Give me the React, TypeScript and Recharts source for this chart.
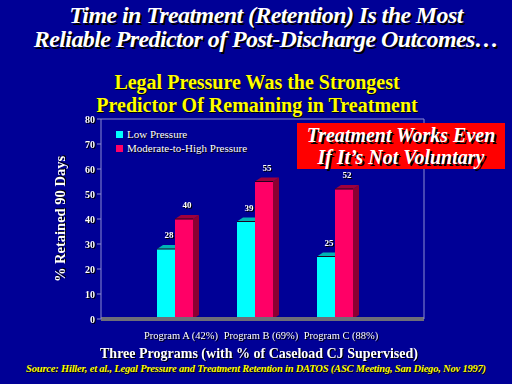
import React from 'react';
import { BarChart, Bar, XAxis, YAxis, CartesianGrid, Legend, LabelList } from 'recharts';

const programs = ['Program A (42%)', 'Program B (69%)', 'Program C (88%)'];
const lowPressure = [28, 39, 25];
const moderateHigh = [40, 55, 52];
const yTicks = [0, 10, 20, 30, 40, 50, 60, 70, 80];

const data = programs.map((p, i) => ({ name: p, low: lowPressure[i], high: moderateHigh[i] }));

const BG = '#000096';
const GRID = '#8c8cd0';
const SERIF = '"Liberation Serif", "Times New Roman", serif';

const DX = 6;
const DY = 4;

function make3D(front: string, top: string, side: string) {
  return (props: any) => {
    const { x, y, width, height } = props;
    if (width == null || height == null) return null;
    return (
      <g>
        <polygon
          points={`${x + width},${y} ${x + width + DX},${y - DY} ${x + width + DX},${y + height - DY} ${x + width},${y + height}`}
          fill={side}
        />
        <rect x={x} y={y} width={width} height={height} fill={front} />
        <polygon
          points={`${x},${y} ${x + DX},${y - DY} ${x + width + DX},${y - DY} ${x + width},${y}`}
          fill={top}
        />
        <line x1={x} y1={y} x2={x + width} y2={y} stroke="#200020" strokeWidth={1} />
      </g>
    );
  };
}

const LowShape = make3D('#00ffff', '#00b4b4', '#008080');
const HighShape = make3D('#ff0066', '#a0003c', '#8c0032');

const valueLabel = (props: any) => {
  const { x, y, width, value } = props;
  return (
    <text
      x={x + width / 2 + 3}
      y={y - 11}
      textAnchor="middle"
      fill="#ffffff"
      fontSize={9}
      fontWeight="bold"
      fontFamily={SERIF}
      style={{ filter: 'drop-shadow(1px 1px 0 #000)' }}
    >
      {value}
    </text>
  );
};

const XTick = (props: any) => {
  const { x, y, payload } = props;
  return (
    <text
      x={x + 6}
      y={y + 12}
      textAnchor="middle"
      fill="#ffffff"
      fontSize={10.5}
      fontFamily={SERIF}
      style={{ filter: 'drop-shadow(1px 1px 0 #000)' }}
    >
      {payload.value}
    </text>
  );
};

const YTick = (props: any) => {
  const { x, y, payload } = props;
  return (
    <text
      x={x}
      y={y + 4}
      textAnchor="end"
      fill="#ffffff"
      fontSize={10}
      fontWeight="bold"
      fontFamily={SERIF}
      style={{ filter: 'drop-shadow(1px 1px 0 #000)' }}
    >
      {payload.value}
    </text>
  );
};

const LegendContent = () => (
  <div style={{ fontFamily: SERIF, fontSize: 11, color: '#fff', textShadow: '1px 1px 0 #000', lineHeight: '14px' }}>
    <div style={{ display: 'flex', alignItems: 'center' }}>
      <span style={{ display: 'inline-block', width: 7, height: 7, background: '#00ffff', marginRight: 4 }} />
      Low Pressure
    </div>
    <div style={{ display: 'flex', alignItems: 'center' }}>
      <span style={{ display: 'inline-block', width: 7, height: 7, background: '#ff0066', marginRight: 4 }} />
      Moderate-to-High Pressure
    </div>
  </div>
);

const titleStyle: React.CSSProperties = {
  position: 'absolute', left: 0, width: 532, textAlign: 'center',
  fontFamily: SERIF, fontWeight: 'bold', fontStyle: 'italic', fontSize: 24, lineHeight: '24px',
  color: '#ffffff', textShadow: '2px 2px 0 #000', letterSpacing: -0.6, whiteSpace: 'nowrap',
};

const subStyle: React.CSSProperties = {
  position: 'absolute', left: 0, width: 514, textAlign: 'center',
  fontFamily: SERIF, fontWeight: 'bold', fontSize: 20, lineHeight: '21px',
  color: '#ffff00', textShadow: '1px 1px 0 #000', letterSpacing: 0, whiteSpace: 'nowrap',
};

export default function App() {
  return (
    <div style={{ position: 'absolute', left: 0, top: 0, width: 512, height: 384, background: BG, overflow: 'hidden' }}>
      <div style={{ ...titleStyle, top: 3 }}>Time in Treatment (Retention) Is the Most</div>
      <div style={{ ...titleStyle, top: 27 }}>Reliable Predictor of Post-Discharge Outcomes…</div>
      <div style={{ ...subStyle, top: 72 }}>Legal Pressure Was the Strongest</div>
      <div style={{ ...subStyle, top: 95 }}>Predictor Of Remaining in Treatment</div>

      <div style={{ position: 'absolute', left: 0, top: 0 }}>
        <BarChart
          width={512}
          height={384}
          data={data}
          margin={{ top: 119, right: 0, bottom: 45, left: 71 }}
          barCategoryGap={22}
          barGap={0}
        >
          <CartesianGrid horizontal vertical={false} stroke={GRID} strokeWidth={1} />
          <XAxis
            dataKey="name"
            padding={{ left: 34, right: 49 }}
            height={20}
            axisLine={{ stroke: '#6e6e78', strokeWidth: 4 }}
            tickLine={false}
            tick={<XTick />}
            interval={0}
            label={(p: any) => {
              const vb = p.viewBox || {};
              return (
                <text
                  x={259}
                  y={(vb.y || 319) + 39}
                  textAnchor="middle"
                  fill="#ffffff"
                  fontSize={14}
                  fontWeight="bold"
                  fontFamily={SERIF}
                  style={{ filter: 'drop-shadow(1px 1px 0 #000)' }}
                >
                  Three Programs (with % of Caseload CJ Supervised)
                </text>
              );
            }}
          />
          <YAxis
            yAxisId="left"
            width={30}
            domain={[0, 80]}
            ticks={yTicks}
            interval={0}
            axisLine={{ stroke: GRID }}
            tickLine={{ stroke: GRID }}
            tickSize={4}
            tick={<YTick />}
            label={(p: any) => {
              const vb = p.viewBox || {};
              const cx = (vb.x || 71) - 9;
              const cy = (vb.y || 119) + (vb.height || 200) / 2;
              return (
                <text
                  x={cx}
                  y={cy}
                  transform={`rotate(-90 ${cx} ${cy})`}
                  textAnchor="middle"
                  dominantBaseline="middle"
                  fill="#ffffff"
                  fontSize={14.5}
                  fontWeight="bold"
                  fontFamily={SERIF}
                  style={{ filter: 'drop-shadow(1px 1px 0 #000)' }}
                >
                  % Retained 90 Days
                </text>
              );
            }}
          />
          <YAxis
            yAxisId="right"
            orientation="right"
            width={88}
            domain={[0, 80]}
            ticks={yTicks}
            tick={false}
            tickLine={false}
            axisLine={{ stroke: GRID }}
          />
          <Legend
            layout="horizontal"
            verticalAlign="middle"
            align="center"
            content={<LegendContent />}
            wrapperStyle={{ position: 'absolute', left: 116, top: 127, width: 200, height: 30 }}
          />
          <Bar yAxisId="left" dataKey="low" name="Low Pressure" shape={<LowShape />} isAnimationActive={false}>
            <LabelList dataKey="low" content={valueLabel} />
          </Bar>
          <Bar yAxisId="left" dataKey="high" name="Moderate-to-High Pressure" shape={<HighShape />} isAnimationActive={false}>
            <LabelList dataKey="high" content={valueLabel} />
          </Bar>
        </BarChart>
      </div>

      <div
        style={{
          position: 'absolute', left: 297, top: 123, width: 208, height: 46, background: '#ff0000',
          fontFamily: SERIF, fontWeight: 'bold', fontStyle: 'italic', fontSize: 20, lineHeight: '22px',
          color: '#ffffff', textShadow: '2px 2px 0 #000', textAlign: 'center', paddingTop: 1, boxSizing: 'border-box',
        }}
      >
        Treatment Works Even
        <br />
        If It’s Not Voluntary
      </div>

      <div
        style={{
          position: 'absolute', left: 0, top: 363, width: 512, textAlign: 'center',
          fontFamily: SERIF, fontWeight: 'bold', fontStyle: 'italic', fontSize: 10.5,
          color: '#ffff00', textShadow: '1px 1px 0 #000', whiteSpace: 'nowrap', letterSpacing: -0.2,
        }}
      >
        Source: Hiller, et al., Legal Pressure and Treatment Retention in DATOS (ASC Meeting, San Diego, Nov 1997)
      </div>
    </div>
  );
}
